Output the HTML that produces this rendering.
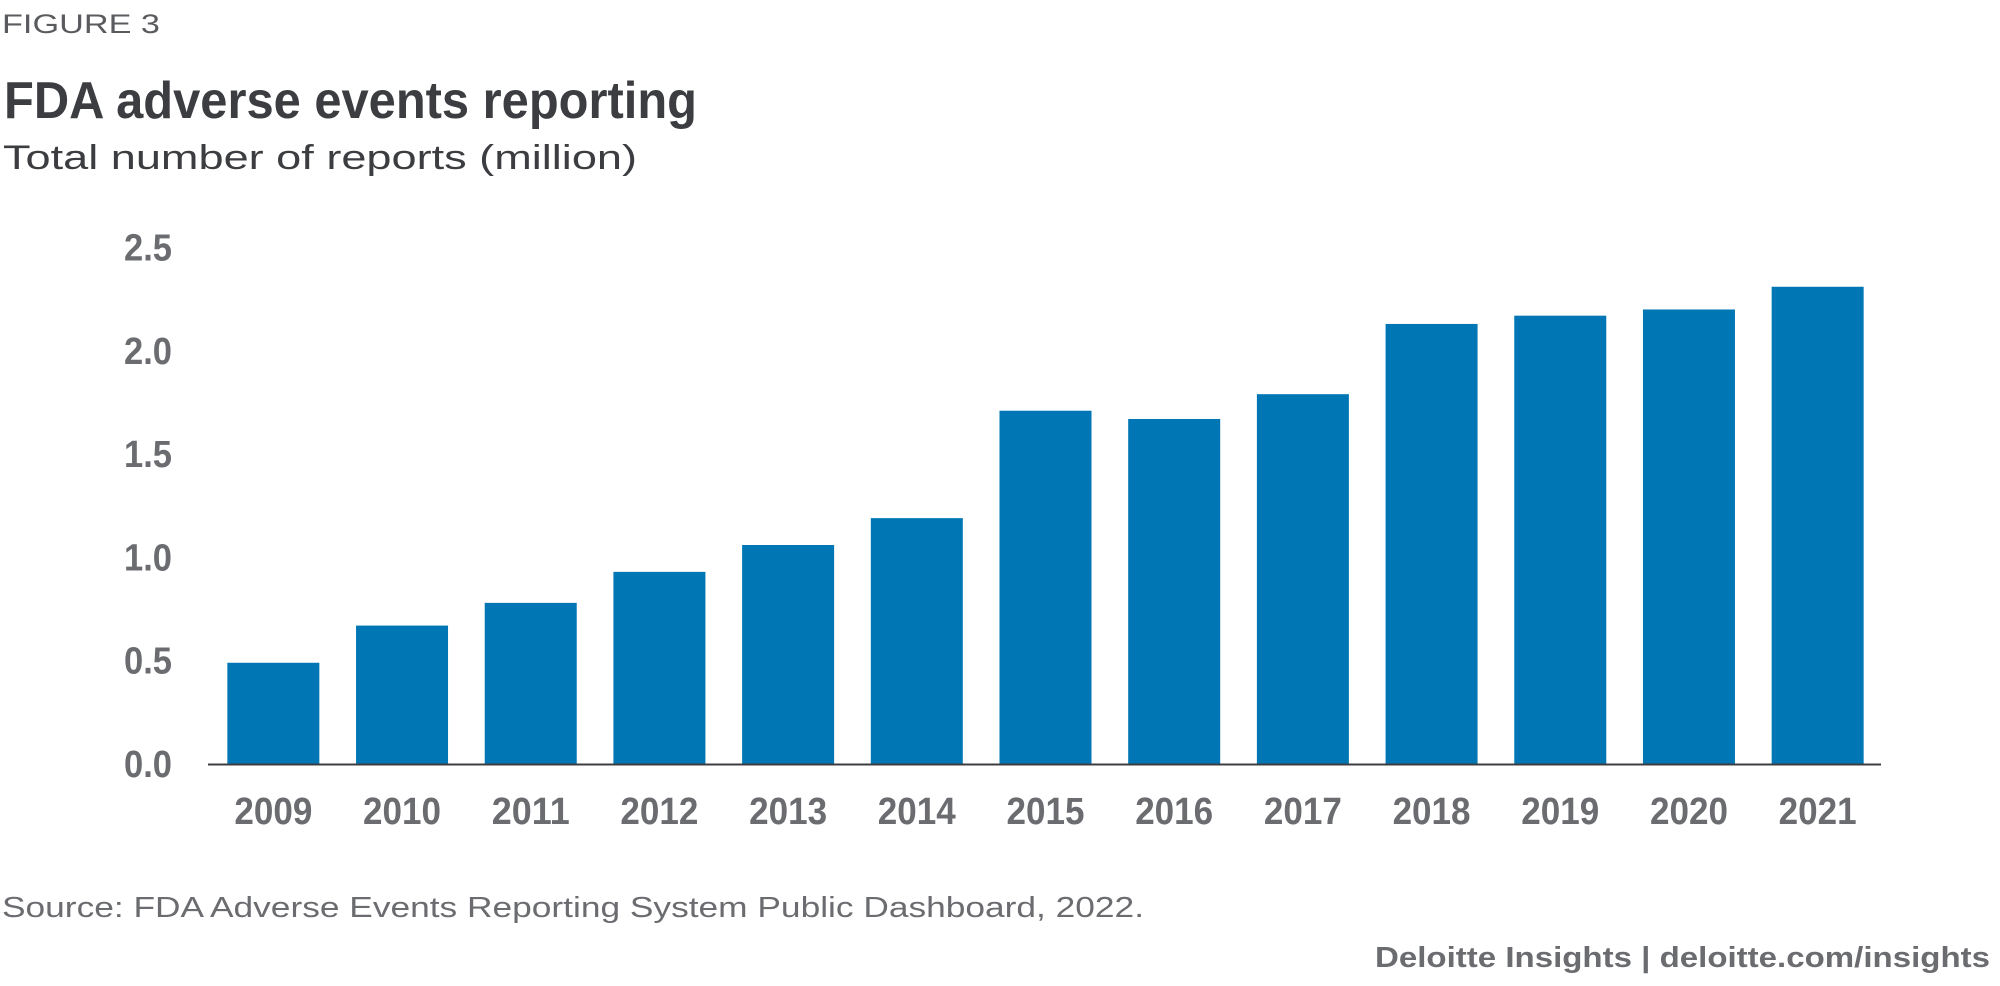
<!DOCTYPE html>
<html><head><meta charset="utf-8"><style>
html,body{margin:0;padding:0;background:#fff;width:2000px;height:986px;overflow:hidden}
svg text{font-family:"Liberation Sans",sans-serif}
</style></head><body>
<svg id="chart" width="2000" height="986" viewBox="0 0 2000 986">
<text x="2" y="33" font-size="27" fill="#5a5b5e" textLength="158" lengthAdjust="spacingAndGlyphs">FIGURE 3</text>
<text x="4" y="118" font-size="52" font-weight="bold" fill="#3c3d41" textLength="693" lengthAdjust="spacingAndGlyphs">FDA adverse events reporting</text>
<text x="3" y="169" font-size="34" fill="#3c3d41" textLength="634" lengthAdjust="spacingAndGlyphs">Total number of reports (million)</text>
<g id="yaxis"></g>
<g id="bars"></g>
<g id="xaxis"></g>
<text x="2" y="917" font-size="29" fill="#6b6c70" textLength="1142" lengthAdjust="spacingAndGlyphs">Source: FDA Adverse Events Reporting System Public Dashboard, 2022.</text>
<text x="1990" y="967" font-size="29" font-weight="bold" fill="#6b6c70" text-anchor="end" textLength="615" lengthAdjust="spacingAndGlyphs">Deloitte Insights | deloitte.com/insights</text>
</svg>
<script>
const categories=["2009","2010","2011","2012","2013","2014","2015","2016","2017","2018","2019","2020","2021"];
const values=[0.49,0.67,0.78,0.93,1.06,1.19,1.71,1.67,1.79,2.13,2.17,2.20,2.31];
const yTicks=[0,0.5,1.0,1.5,2.0,2.5];
const yTickLabels=["0.0","0.5","1.0","1.5","2.0","2.5"];
const NS="http://www.w3.org/2000/svg";
const x0=208,x1=1881,yBase=764,pxPerUnit=206.6;
const pitch=(x1-x0)/categories.length, bw=92;
function yScale(v){return yBase-v*pxPerUnit;}
function xCenter(i){return x0+pitch*(i+0.5)+1;}
function mk(tag,attrs,parent){const e=document.createElementNS(NS,tag);for(const k in attrs)e.setAttribute(k,attrs[k]);parent.appendChild(e);return e;}
const yg=document.getElementById('yaxis'),bg=document.getElementById('bars'),xg=document.getElementById('xaxis');
yTicks.forEach((t,i)=>{
  const e=mk('text',{x:172,y:yScale(t)+13,'font-size':38,'font-weight':'bold',fill:'#6b6c70','text-anchor':'end',textLength:48,lengthAdjust:'spacingAndGlyphs'},yg);
  
  
  e.textContent=yTickLabels[i];
});
values.forEach((v,i)=>{
  const r=mk('rect',{x:xCenter(i)-bw/2,y:yScale(v),width:bw,height:yBase-yScale(v),fill:'#0076b4'},bg);
  
  
});
const ax=mk('line',{x1:x0,x2:x1,y1:yBase+0.5,y2:yBase+0.5,stroke:'#3c3d41','stroke-width':2},xg);


categories.forEach((c,i)=>{
  const e=mk('text',{x:xCenter(i),y:824,'font-size':38,'font-weight':'bold',fill:'#6b6c70','text-anchor':'middle',textLength:78,lengthAdjust:'spacingAndGlyphs'},xg);
  
  
  e.textContent=c;
});
</script>
</body></html>
